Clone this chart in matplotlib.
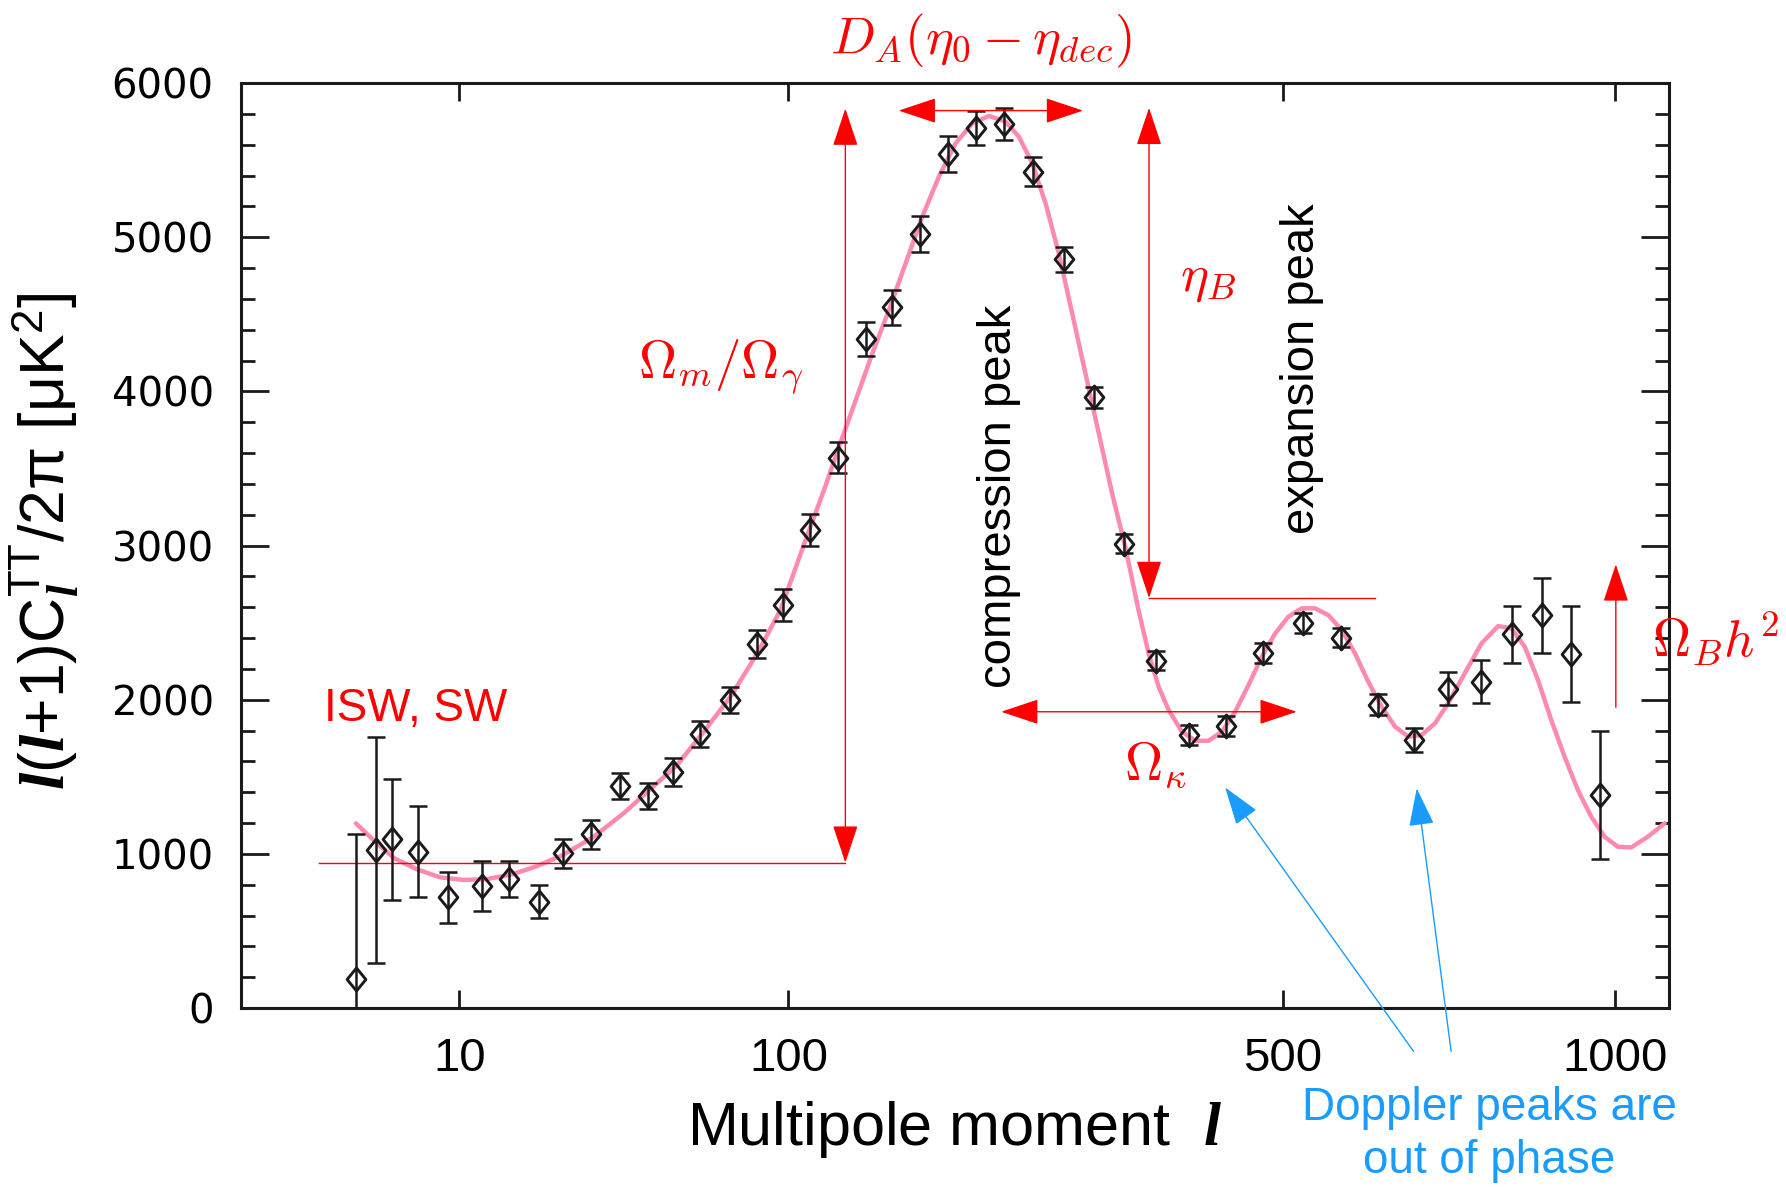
import numpy as np
import matplotlib
matplotlib.use('Agg')
import matplotlib.pyplot as plt
from matplotlib.path import Path

plt.rcParams['font.family'] = ['Liberation Sans', 'DejaVu Sans']
plt.rcParams['mathtext.fontset'] = 'custom'
plt.rcParams['mathtext.rm'] = 'Liberation Sans'
plt.rcParams['mathtext.it'] = 'Liberation Serif:style=italic:weight=bold'

# TT band powers (multipole, l(l+1)C_l/2pi, 1-sigma)
ell = [2, 3, 4, 5.9, 8.8, 12.8, 16.7, 21.8, 26.5, 32.7, 39.8, 47.6, 55.4, 64.4,
       75.3, 86.4, 97.5, 110.3, 124.3, 139.2, 154.2, 171.2, 189.9, 208.7, 229.4,
       251.8, 277.2, 303.1, 330.7, 361.4, 395.4, 434.6, 477.3, 524.3, 573, 623,
       673.2, 722.6, 772.8, 822.5, 872.2, 922.2, 973]
dl = [186, 1025, 1094, 1014, 718, 791, 835, 689, 1003, 1127, 1440, 1375, 1533, 1778,
      1998, 2362, 2616, 3101, 3571, 4338, 4546, 5022, 5541, 5711, 5735,
      5426, 4857, 3962, 3013, 2253, 1771, 1832, 2301, 2500, 2402, 1966,
      1739, 2070, 2117, 2424, 2549, 2297, 1382]
dl_err = [940, 730, 390, 296, 166, 164, 116, 108, 94, 94, 83, 86, 91, 86,
          87, 92, 103, 103, 103, 111, 115, 117, 116, 111, 105,
          92, 81, 67, 63, 60, 65, 65, 65, 65, 62, 68,
          77, 107, 138, 186, 243, 313, 413]

# best-fit model spectrum
fit_ell = [2.0, 2.96, 4.13, 5.86, 7.95, 10.45, 13.37, 17.34, 21.2, 26.4, 33.1, 40.8,
           48.3, 56.6, 65.7, 75.6, 86.4, 96.4, 109.8, 117.1, 124.8, 133.7, 142.9,
           152.5, 162.5, 172.9, 183.6, 194.8, 206.4, 218.3, 230.6, 240.9, 251.4,
           262.1, 273.0, 284.3, 295.8, 307.6, 319.7, 332.0, 344.5, 354.3, 364.1,
           374.2, 387.7, 401.6, 415.8, 430.3, 445.0, 460.1, 475.5, 491.1, 507.0,
           523.2, 539.8, 556.7, 573.9, 591.4, 609.2, 627.5, 646.2, 664.9, 684.0,
           703.5, 723.1, 748.1, 774.1, 800.3, 821.5, 843.3, 865.2, 887.6, 910.2,
           933.3, 956.9, 980.6, 1004.9, 1029.3, 1060.2, 1092.2]
fit_dl = [1198, 1079, 971, 899, 848, 831, 835, 869, 917, 992, 1107, 1263,
          1419, 1576, 1793, 2020, 2301, 2582, 3101, 3361, 3642, 3944, 4247,
          4528, 4831, 5134, 5393, 5610, 5739, 5787, 5751, 5653, 5480,
          5220, 4896, 4507, 4117, 3728, 3339, 2990, 2582, 2301, 2085,
          1933, 1793, 1734, 1734, 1793, 1923, 2096, 2280, 2430, 2539,
          2593, 2593, 2549, 2453, 2301, 2117, 1955, 1825, 1760, 1771,
          1847, 1977, 2171, 2366, 2478, 2463, 2344, 2128, 1868, 1631,
          1414, 1241, 1111, 1046, 1042, 1111, 1198]

xticks = [10, 100, 500, 1000]
xticklabels = ['10', '100', '500', '1000']
yticks = [0, 1000, 2000, 3000, 4000, 5000, 6000]


def fwd(x):
    return np.sign(x) * np.abs(x) ** 0.4


def inv(x):
    return np.sign(x) * np.abs(x) ** 2.5


RED = '#ff0000'
BLUE = '#1a9cff'
INK = '#1a1a1a'

fig = plt.figure(figsize=(17.86, 11.88), dpi=100)
ax = fig.add_axes([0.1352, 0.1515, 0.7991, 0.7785])
ax.set_xscale('function', functions=(fwd, inv))
ax.set_xlim(0, 1100)
ax.set_ylim(0, 6000)

ax.plot(fit_ell, fit_dl, color='#ff8ab0', lw=3.2, solid_capstyle='round', zorder=2)

diamond = Path([(0, 1.1), (0.9, 0), (0, -1.1), (-0.9, 0), (0, 1.1)],
               [Path.MOVETO, Path.LINETO, Path.LINETO, Path.LINETO, Path.CLOSEPOLY])
ax.errorbar(ell, dl, yerr=dl_err, fmt='none', ecolor=INK, elinewidth=1.8,
            capsize=6.5, capthick=1.8, zorder=3)
ax.plot(ell, dl, ls='none', marker=diamond, ms=16.5, mfc='none', mec=INK,
        mew=2.1, zorder=4)

# axes styling
for sp in ax.spines.values():
    sp.set_linewidth(2.2)
    sp.set_color(INK)
ax.set_xticks(xticks, xticklabels, fontsize=34)
ax.xaxis.set_minor_locator(matplotlib.ticker.NullLocator())
ax.set_yticks(yticks, [str(v) for v in yticks], fontsize=29, fontfamily='DejaVu Sans')
ax.yaxis.set_minor_locator(matplotlib.ticker.MultipleLocator(200))
ax.tick_params(which='both', direction='in', top=True, right=True, width=2, color=INK)
ax.tick_params(axis='x', which='major', length=13, pad=21)
ax.tick_params(axis='y', which='major', length=20, pad=20)
ax.tick_params(axis='y', which='minor', length=10)

ax.set_xlabel('Multipole moment  $l$', fontsize=44)
ax.xaxis.set_label_coords(0.5, -0.098)
ax.set_ylabel('$l$($l$+1)C$_{l}^{\\mathrm{TT}}$/2π [μK$^{\\mathrm{2}}$]', fontsize=45)
ax.yaxis.set_label_coords(-0.112, 0.504)


def arrow(x0, y0, x1, y1, style, color):
    ax.annotate('', xy=(x1, y1), xytext=(x0, y0), xycoords='data',
                annotation_clip=False,
                arrowprops=dict(arrowstyle=style + ',head_length=2.4,head_width=0.8',
                                color=color, lw=1.0, mutation_scale=10,
                                shrinkA=0, shrinkB=0))


# acoustic scale markers
arrow(158.3, 5822, 293.7, 5822, '<|-|>', RED)
arrow(128.1, 943, 128.1, 5835, '<|-|>', RED)
ax.plot([0.76, 128.1], [943, 943], color=RED, lw=1.0)
arrow(354.7, 2660, 354.7, 5840, '<|-|>', RED)
ax.plot([354.7, 618.6], [2658, 2658], color=RED, lw=1.0)
arrow(227.4, 1922, 517.1, 1922, '<|-|>', RED)
arrow(1001, 1951, 1001, 2878, '-|>', RED)

# Doppler peaks pointers
arrow(672.3, -281, 433.8, 1431, '-|>', BLUE)
arrow(727.5, -281, 676.9, 1425, '-|>', BLUE)

mt = dict(color=RED, fontsize=38, math_fontfamily='cm')
ax.text(212.5, 6274, r'$D_A(\eta_0-\eta_{dec})$', ha='center', va='center', **mt)
ax.text(71.7, 4160, r'$\Omega_m/\Omega_\gamma$', ha='center', va='center', **mt)
ax.text(415.3, 4729, r'$\eta_B$', ha='center', va='center', **mt)
ax.text(361.3, 1574, r'$\Omega_\kappa$', ha='center', va='center', **mt)
ax.text(1069, 2280, r'$\Omega_B h^2$', ha='left', va='baseline', **mt)

ax.text(5.76, 1864, 'ISW, SW', color=RED, fontsize=33, ha='center', va='baseline')
ax.text(225.7, 3318, 'compression peak', rotation=90, fontsize=34,
        ha='center', va='center')
ax.text(524, 4145, 'expansion peak', rotation=90, fontsize=34,
        ha='center', va='center')

fig.text(0.834, 0.045, 'Doppler peaks are\nout of phase', color=BLUE, fontsize=33,
         ha='center', va='center', linespacing=1.25)

fig.savefig('out.png', dpi=100)
